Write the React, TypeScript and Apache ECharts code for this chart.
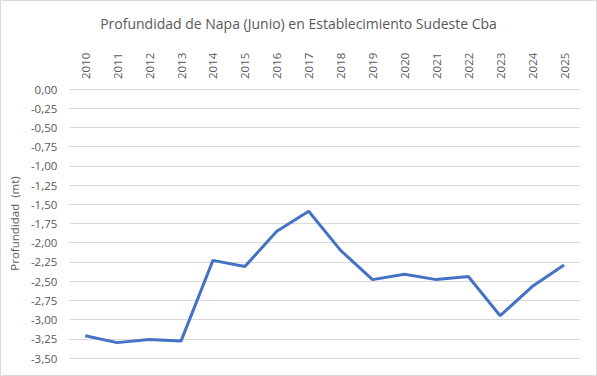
import React, { useEffect, useRef } from "react";
import * as echarts from "echarts";

const years = ["2010","2011","2012","2013","2014","2015","2016","2017","2018","2019","2020","2021","2022","2023","2024","2025"];
const depth = [-3.21,-3.30,-3.26,-3.28,-2.23,-2.31,-1.85,-1.59,-2.10,-2.48,-2.41,-2.48,-2.44,-2.95,-2.57,-2.29];
const titleText = "Profundidad de Napa (Junio) en Establecimiento Sudeste Cba";
const yName = "Profundidad  (mt)";

export default function App() {
  const ref = useRef<HTMLDivElement>(null);
  useEffect(() => {
    const chart = echarts.init(ref.current!, undefined, { renderer: "svg" });
    const font = "Open Sans";
    chart.setOption({
      animation: false,
      backgroundColor: "#ffffff",
      title: {
        text: titleText,
        left: "center",
        top: 11,
        textStyle: { fontFamily: font, fontSize: 14, fontWeight: "normal", color: "#595959" },
      },
      graphic: [
        { type: "rect", shape: { x: 0.5, y: 0.5, width: 596, height: 375 }, style: { fill: "none", stroke: "#d9d9d9", lineWidth: 1 }, silent: true },
      ],
      grid: { left: 69, right: 17, top: 89, bottom: 18 },
      xAxis: {
        type: "category",
        data: years,
        position: "top",
        boundaryGap: true,
        axisLine: { show: false },
        axisTick: { show: false },
        axisLabel: { rotate: 90, margin: 10, fontFamily: font, fontSize: 11.5, color: "#595959" },
      },
      yAxis: {
        type: "value",
        min: -3.5,
        max: 0,
        interval: 0.25,
        name: yName,
        nameLocation: "middle",
        nameGap: 44,
        nameTextStyle: { fontFamily: font, fontSize: 11.5, color: "#595959" },
        axisLine: { show: false },
        axisTick: { show: false },
        splitLine: { lineStyle: { color: "#d9d9d9", width: 1 } },
        axisLabel: {
          margin: 12,
          fontFamily: font,
          fontSize: 11.5,
          color: "#595959",
          formatter: (v: number) => v.toFixed(2).replace(".", ","),
        },
      },
      series: [
        {
          type: "line",
          data: depth,
          showSymbol: false,
          symbol: "none",
          lineStyle: { color: "#4472C4", width: 3 },
        },
      ],
    });
    return () => chart.dispose();
  }, []);
  return <div ref={ref} style={{ position: "fixed", left: 0, top: 0, width: 597, height: 376 }} />;
}
